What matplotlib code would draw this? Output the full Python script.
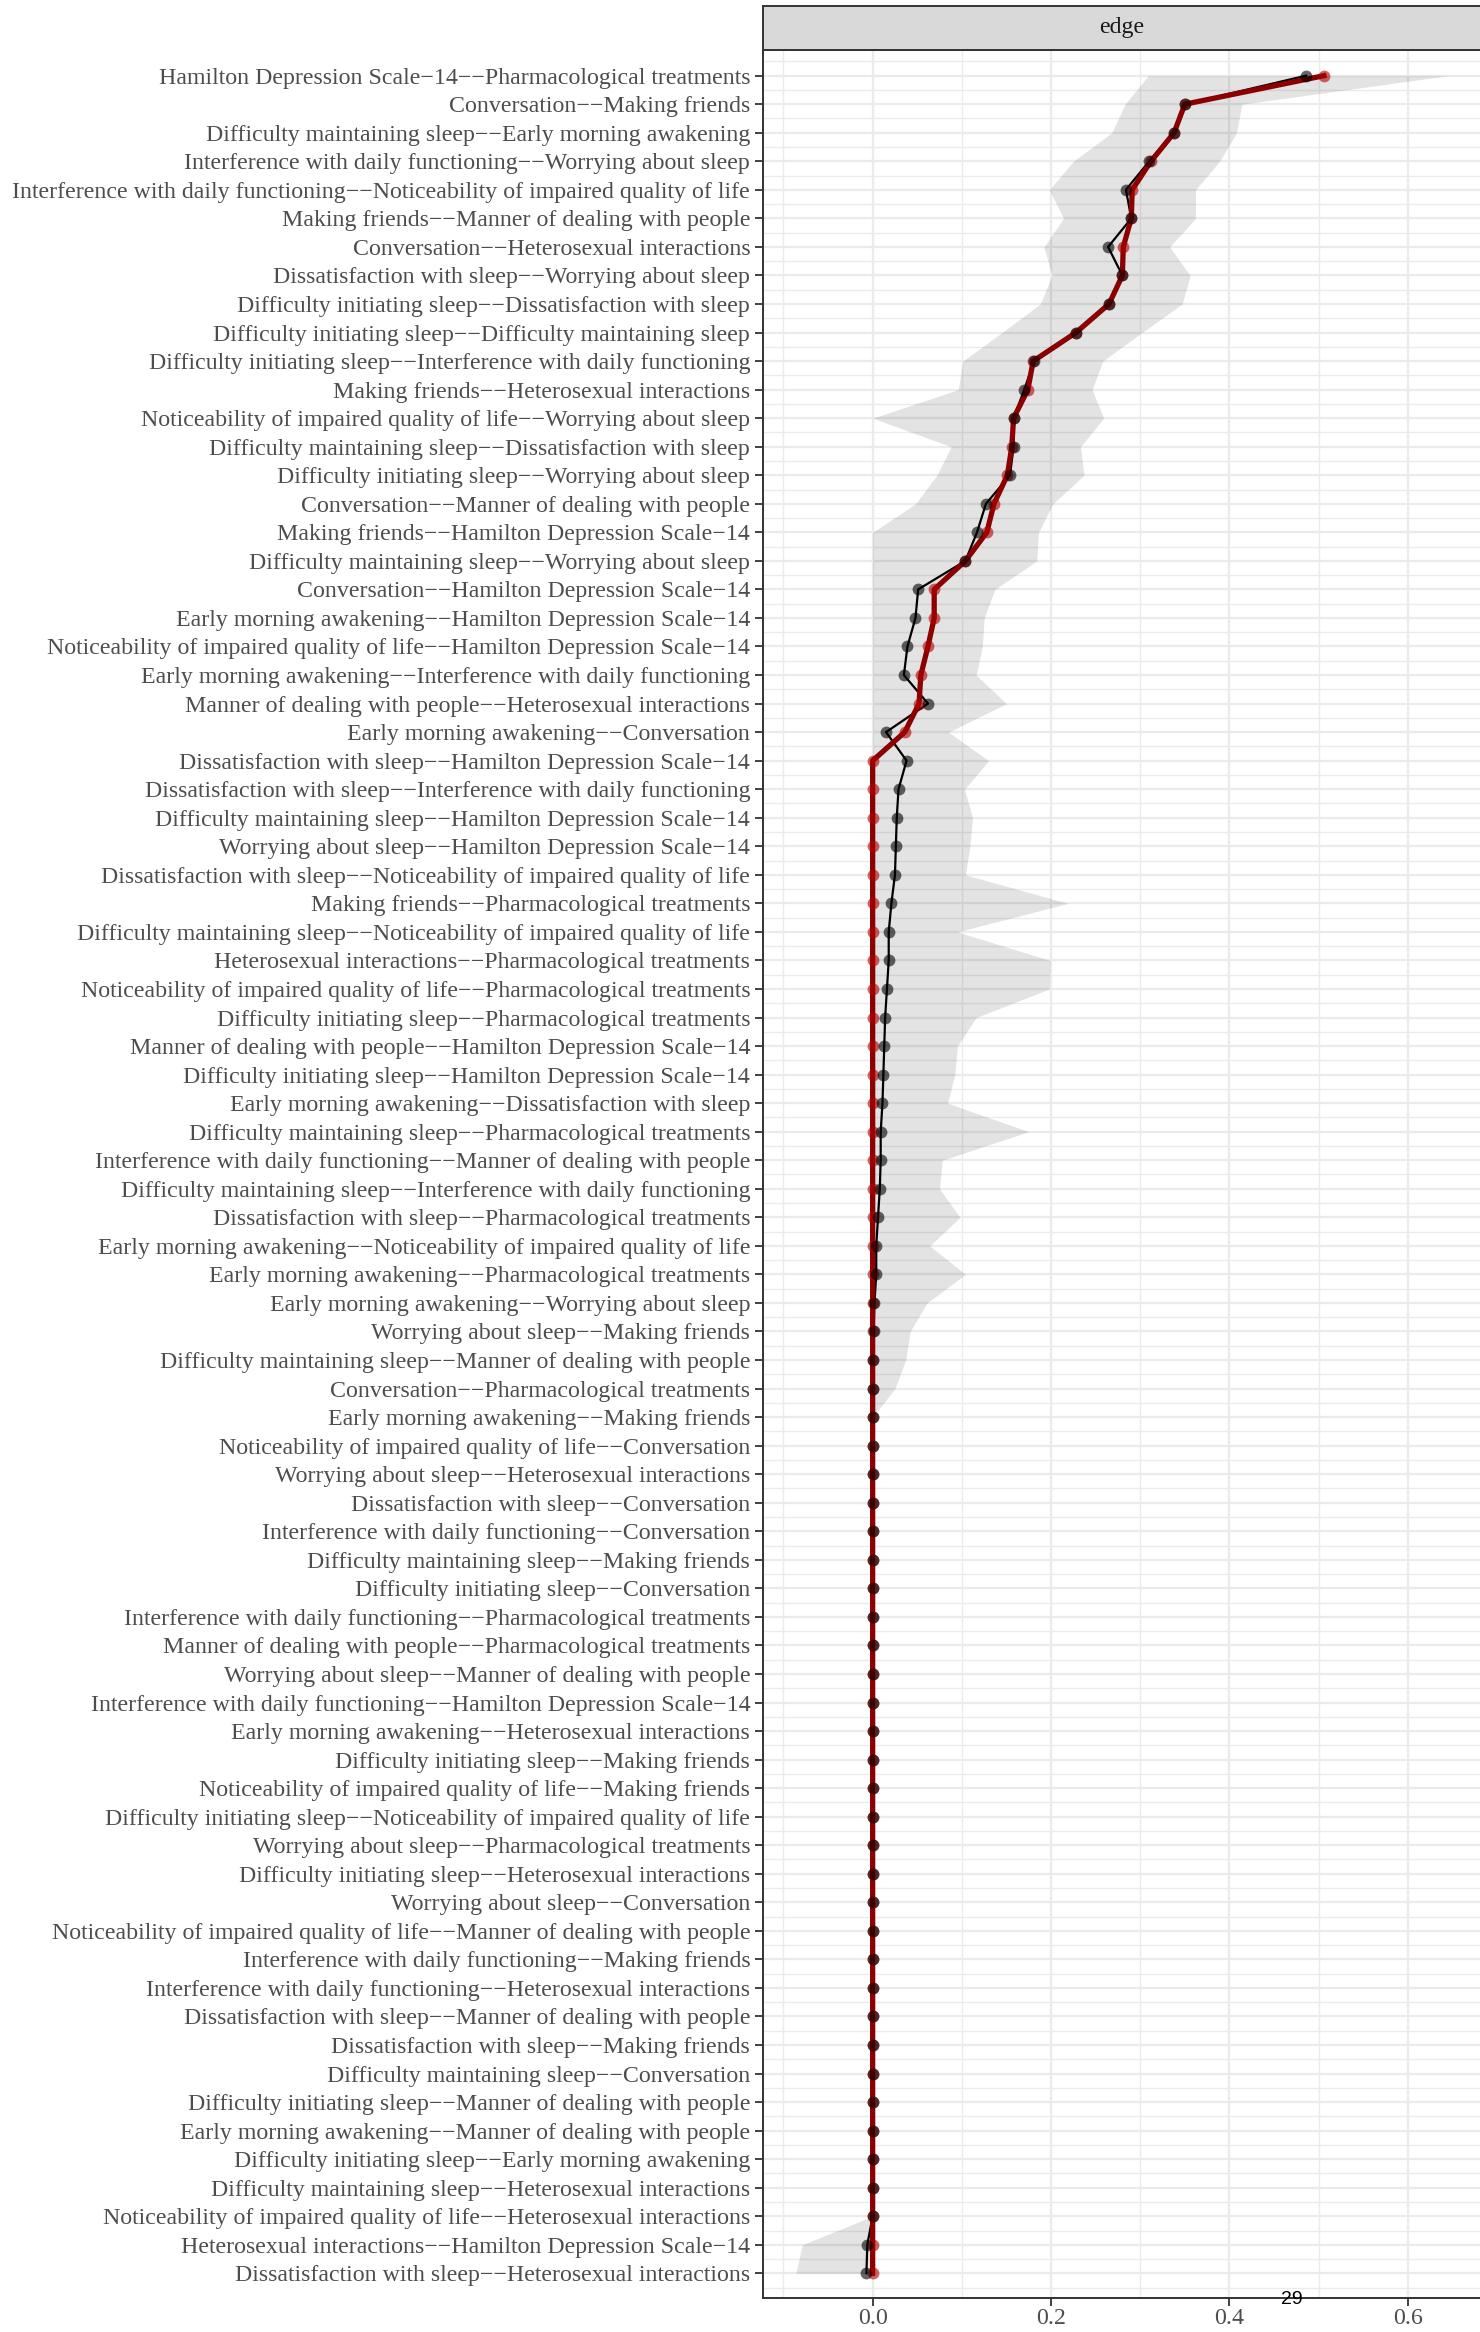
import numpy as np
import matplotlib.pyplot as plt

# edge labels, ordered as in the plot (top to bottom)
edges = [
    "Hamilton Depression Scale-14--Pharmacological treatments",
    "Conversation--Making friends",
    "Difficulty maintaining sleep--Early morning awakening",
    "Interference with daily functioning--Worrying about sleep",
    "Interference with daily functioning--Noticeability of impaired quality of life",
    "Making friends--Manner of dealing with people",
    "Conversation--Heterosexual interactions",
    "Dissatisfaction with sleep--Worrying about sleep",
    "Difficulty initiating sleep--Dissatisfaction with sleep",
    "Difficulty initiating sleep--Difficulty maintaining sleep",
    "Difficulty initiating sleep--Interference with daily functioning",
    "Making friends--Heterosexual interactions",
    "Noticeability of impaired quality of life--Worrying about sleep",
    "Difficulty maintaining sleep--Dissatisfaction with sleep",
    "Difficulty initiating sleep--Worrying about sleep",
    "Conversation--Manner of dealing with people",
    "Making friends--Hamilton Depression Scale-14",
    "Difficulty maintaining sleep--Worrying about sleep",
    "Conversation--Hamilton Depression Scale-14",
    "Early morning awakening--Hamilton Depression Scale-14",
    "Noticeability of impaired quality of life--Hamilton Depression Scale-14",
    "Early morning awakening--Interference with daily functioning",
    "Manner of dealing with people--Heterosexual interactions",
    "Early morning awakening--Conversation",
    "Dissatisfaction with sleep--Hamilton Depression Scale-14",
    "Dissatisfaction with sleep--Interference with daily functioning",
    "Difficulty maintaining sleep--Hamilton Depression Scale-14",
    "Worrying about sleep--Hamilton Depression Scale-14",
    "Dissatisfaction with sleep--Noticeability of impaired quality of life",
    "Making friends--Pharmacological treatments",
    "Difficulty maintaining sleep--Noticeability of impaired quality of life",
    "Heterosexual interactions--Pharmacological treatments",
    "Noticeability of impaired quality of life--Pharmacological treatments",
    "Difficulty initiating sleep--Pharmacological treatments",
    "Manner of dealing with people--Hamilton Depression Scale-14",
    "Difficulty initiating sleep--Hamilton Depression Scale-14",
    "Early morning awakening--Dissatisfaction with sleep",
    "Difficulty maintaining sleep--Pharmacological treatments",
    "Interference with daily functioning--Manner of dealing with people",
    "Difficulty maintaining sleep--Interference with daily functioning",
    "Dissatisfaction with sleep--Pharmacological treatments",
    "Early morning awakening--Noticeability of impaired quality of life",
    "Early morning awakening--Pharmacological treatments",
    "Early morning awakening--Worrying about sleep",
    "Worrying about sleep--Making friends",
    "Difficulty maintaining sleep--Manner of dealing with people",
    "Conversation--Pharmacological treatments",
    "Early morning awakening--Making friends",
    "Noticeability of impaired quality of life--Conversation",
    "Worrying about sleep--Heterosexual interactions",
    "Dissatisfaction with sleep--Conversation",
    "Interference with daily functioning--Conversation",
    "Difficulty maintaining sleep--Making friends",
    "Difficulty initiating sleep--Conversation",
    "Interference with daily functioning--Pharmacological treatments",
    "Manner of dealing with people--Pharmacological treatments",
    "Worrying about sleep--Manner of dealing with people",
    "Interference with daily functioning--Hamilton Depression Scale-14",
    "Early morning awakening--Heterosexual interactions",
    "Difficulty initiating sleep--Making friends",
    "Noticeability of impaired quality of life--Making friends",
    "Difficulty initiating sleep--Noticeability of impaired quality of life",
    "Worrying about sleep--Pharmacological treatments",
    "Difficulty initiating sleep--Heterosexual interactions",
    "Worrying about sleep--Conversation",
    "Noticeability of impaired quality of life--Manner of dealing with people",
    "Interference with daily functioning--Making friends",
    "Interference with daily functioning--Heterosexual interactions",
    "Dissatisfaction with sleep--Manner of dealing with people",
    "Dissatisfaction with sleep--Making friends",
    "Difficulty maintaining sleep--Conversation",
    "Difficulty initiating sleep--Manner of dealing with people",
    "Early morning awakening--Manner of dealing with people",
    "Difficulty initiating sleep--Early morning awakening",
    "Difficulty maintaining sleep--Heterosexual interactions",
    "Noticeability of impaired quality of life--Heterosexual interactions",
    "Heterosexual interactions--Hamilton Depression Scale-14",
    "Dissatisfaction with sleep--Heterosexual interactions",
]

# sample edge weights (red)
sample = [0.506, 0.350, 0.338, 0.312, 0.291, 0.290, 0.281, 0.280, 0.265, 0.228,
          0.180, 0.174, 0.158, 0.156, 0.151, 0.136, 0.128, 0.104, 0.069, 0.069,
          0.062, 0.054, 0.052, 0.036] + [0.0] * 54

# bootstrap means (black)
boot_mean = [0.486, 0.350, 0.338, 0.310, 0.284, 0.290, 0.264, 0.280, 0.265, 0.228,
             0.181, 0.170, 0.158, 0.158, 0.154, 0.127, 0.117, 0.104, 0.051, 0.048,
             0.039, 0.035, 0.062, 0.015, 0.038, 0.029, 0.027, 0.026, 0.025, 0.021,
             0.018, 0.018, 0.016, 0.014, 0.013, 0.012, 0.011, 0.009, 0.009, 0.008,
             0.006, 0.004, 0.004, 0.002, 0.001] + [0.0] * 31 + [-0.006, -0.007]

# bootstrap CI
ci_lower = [0.309, 0.283, 0.268, 0.225, 0.198, 0.214, 0.192, 0.201, 0.188, 0.145,
            0.101, 0.096, 0.0, 0.088, 0.072, 0.048] + [0.0] * 60 + [-0.079, -0.086]
ci_upper = [0.645, 0.414, 0.408, 0.389, 0.362, 0.362, 0.333, 0.356, 0.347, 0.302,
            0.258, 0.246, 0.259, 0.233, 0.237, 0.202, 0.186, 0.184, 0.137, 0.125,
            0.123, 0.116, 0.150, 0.085, 0.130, 0.103, 0.112, 0.109, 0.104, 0.219,
            0.095, 0.199, 0.198, 0.116, 0.095, 0.092, 0.084, 0.175, 0.078, 0.075,
            0.098, 0.064, 0.104, 0.061, 0.042, 0.037, 0.025] + [0.0] * 31

# hyphens come out as minus signs in the original rendering
labels = [e.replace("-", "\u2212") for e in edges]
y = np.arange(len(edges))

W, H = 1480, 2332
fig = plt.figure(figsize=(W / 100, H / 100), dpi=100)
left, top, bottom = 762.7, 50, 2298
ax = fig.add_axes([left / W, (H - bottom) / H, 1 - left / W, (bottom - top) / H])

ax.fill_betweenx(y, ci_lower, ci_upper, color='black', alpha=0.11, lw=0, zorder=2)
ax.plot(boot_mean, y, color='black', lw=1.6, zorder=3)
ax.plot(sample, y, color='#8B0000', lw=3.8, zorder=4)
ax.plot(sample, y, 'o', color='#B00000', alpha=0.6, ms=8.5, mew=0, zorder=5)
ax.plot(boot_mean, y, 'o', color='black', alpha=0.6, ms=8.5, mew=0, zorder=6)

ax.set_xlim(-0.1233, 0.681)
ax.set_ylim(len(edges) - 1 + 0.865, -0.9)
ax.set_xticks([0.0, 0.2, 0.4, 0.6])
ax.set_xticklabels(['0.0', '0.2', '0.4', '0.6'])
ax.set_xticks([-0.1, 0.1, 0.3, 0.5], minor=True)
ax.set_yticks(y)
ax.set_yticklabels(labels)
ax.set_yticks(np.arange(-0.5, len(edges), 1.0), minor=True)

for lab in ax.get_xticklabels() + ax.get_yticklabels():
    lab.set_family('Liberation Serif')
    lab.set_fontsize(17.2)
    lab.set_color('#4D4D4D')

ax.tick_params(which='major', length=6, width=1.3, color='#333333', pad=3)
ax.tick_params(axis='x', pad=1)
ax.tick_params(which='minor', length=0)
ax.grid(which='major', color='#EBEBEB', lw=1.6, zorder=0)
ax.grid(which='minor', color='#EBEBEB', lw=1.0, zorder=0)
ax.set_axisbelow(True)
for s in ['left', 'bottom', 'top']:
    ax.spines[s].set_color('#333333')
    ax.spines[s].set_linewidth(1.4)
ax.spines['right'].set_visible(False)

# facet strip
sax = fig.add_axes([left / W, (H - top) / H, 1 - left / W, (top - 5.7) / H])
sax.set_facecolor('#D9D9D9')
sax.set_xticks([])
sax.set_yticks([])
for s in ['left', 'bottom', 'top']:
    sax.spines[s].set_color('#333333')
    sax.spines[s].set_linewidth(1.4)
sax.spines['right'].set_visible(False)
sax.text(0.5, 0.5, 'edge', ha='center', va='center', fontsize=17.2,
         family='Liberation Serif', color='#1A1A1A', transform=sax.transAxes)

fig.text(1292 / W, 1 - 2300 / H, '29', ha='center', va='center',
         fontsize=14, family='Liberation Sans', color='black')

fig.savefig('out.png', dpi=100)
